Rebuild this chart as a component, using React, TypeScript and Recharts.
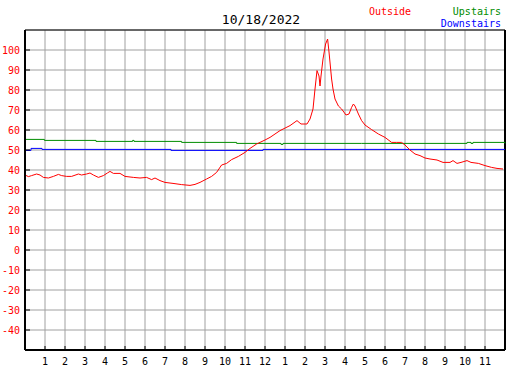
import { LineChart, Line, XAxis, YAxis, CartesianGrid, ReferenceLine } from "recharts";

// hours since midnight and temperatures (°F)
const outsideHours = [
  0, 0.17, 0.33, 0.58, 0.75, 0.92, 1.17, 1.42, 1.67, 1.83, 2.08, 2.33, 2.67, 2.83, 3.08, 3.25, 3.42, 3.67,
  3.92, 4.12, 4.25, 4.42, 4.75, 5.0, 5.42, 5.75, 6.08, 6.33, 6.5, 6.75, 7.0, 7.4, 7.83, 8.25, 8.5, 8.75,
  9.08, 9.33, 9.58, 9.83, 10.08, 10.33, 10.67, 11.0, 11.25, 11.58, 12.0, 12.25, 12.75, 13.25, 13.6, 13.8,
  14.1, 14.25, 14.4, 14.5, 14.6, 14.7, 14.75, 14.8, 14.9, 15.03, 15.13, 15.2, 15.33, 15.4, 15.5, 15.67,
  15.83, 16.05, 16.2, 16.33, 16.42, 16.5, 16.67, 16.83, 17.0, 17.33, 17.67, 18.0, 18.33, 18.58, 18.83,
  19.0, 19.25, 19.5, 19.75, 20.0, 20.25, 20.6, 20.9, 21.25, 21.4, 21.6, 21.8, 22.1, 22.3, 22.67, 23.0,
  23.33, 23.6, 23.9,
];
const outsideTemps = [
  37.5, 36.7, 37.2, 38, 37.5, 36.3, 36, 36.8, 37.8, 37.2, 36.8, 36.8, 38, 37.5, 38, 38.5, 37.5, 36.3,
  37.2, 38.5, 39.3, 38.3, 38.3, 36.8, 36.3, 36, 36.3, 35.2, 36, 34.7, 33.8, 33.3, 32.7, 32.3, 32.8, 33.8,
  35.5, 36.8, 38.8, 42.5, 43.3, 45.2, 46.8, 48.8, 50.8, 53, 55, 56.3, 59.7, 62.2, 64.7, 63,
  63, 65.5, 70.5, 80.5, 89.7, 87, 82, 87, 95.5, 103, 105.5, 99, 85.5, 80.5, 75.5, 72,
  70.5, 67.5, 68, 71.3, 73, 72, 68, 64.7, 62.5, 60.2, 58, 56.3, 53.8, 53.8, 53.8,
  52.5, 50, 48, 47.2, 46, 45.5, 45, 43.8, 43.8, 44.7, 43.3, 43.8, 44.7, 43.8, 43.3, 42.2,
  41.3, 40.8, 40.5,
];

const upstairsHours = [0, 0.97, 3.55, 5.3, 5.38, 5.45, 7.83, 10.58, 12.8, 12.9, 16.83, 22.1, 22.3, 22.4, 24];
const upstairsTemps = [55.3, 54.8, 54.3, 54.3, 54.8, 54.3, 53.8, 53.3, 52.8, 53.3, 53.3, 53.8, 53.3, 53.8, 53.3];

const downstairsHours = [0, 0.3, 0.85, 7.3, 11.9, 24];
const downstairsTemps = [49.8, 50.8, 50.3, 49.8, 50.3, 50.3];

const yTicks = [-40, -30, -20, -10, 0, 10, 20, 30, 40, 50, 60, 70, 80, 90, 100];
const xTicks = Array.from({ length: 23 }, (_, i) => i + 1);

const outsideData = outsideHours.map((h, i) => ({ h, v: outsideTemps[i] }));
const upstairsData = upstairsHours.map((h, i) => ({ h, v: upstairsTemps[i] }));
const downstairsData = downstairsHours.map((h, i) => ({ h, v: downstairsTemps[i] }));

const FONT = "'DejaVu Sans Mono', monospace";
const LEFT = 25;
const BOTTOM = 350;

function YTick({ y, payload }: { y?: number; payload?: { value: number } }) {
  if (y == null || !payload) return null;
  return (
    <g>
      <line x1={LEFT} x2={LEFT + 5} y1={y} y2={y} stroke="#000" />
      <text x={20} y={y + 4} textAnchor="end" fill="#ff0000" fontSize={10} fontFamily={FONT}>
        {payload.value}
      </text>
    </g>
  );
}

function XTick({ x, payload }: { x?: number; payload?: { value: number } }) {
  if (x == null || !payload) return null;
  const h = payload.value;
  const label = h > 12 ? h - 12 : h;
  return (
    <g>
      <line x1={x} x2={x} y1={BOTTOM - 4} y2={BOTTOM} stroke="#000" />
      <text x={x} y={365} textAnchor="middle" fill="#000" fontSize={10} fontFamily={FONT}>
        {label}
      </text>
    </g>
  );
}

export default function App() {
  return (
    <div style={{ position: "relative", width: 527, height: 370, background: "#fff" }}>
      <style>{`body{margin:0}`}</style>
      <LineChart width={527} height={370} margin={{ top: 30, right: 22, bottom: 0, left: 0 }}>
        <CartesianGrid stroke="#a0a0a0" strokeWidth={1} />
        <XAxis
          dataKey="h"
          type="number"
          domain={[0, 24]}
          ticks={xTicks}
          interval={0}
          allowDuplicatedCategory={false}
          axisLine={{ stroke: "#000", strokeWidth: 2 }}
          tickLine={false}
          tick={<XTick />}
          height={20}
        />
        <YAxis
          type="number"
          domain={[-50, 110]}
          ticks={yTicks}
          interval={0}
          axisLine={{ stroke: "#000", strokeWidth: 2 }}
          tickLine={false}
          tick={<YTick />}
          width={25}
        />
        <ReferenceLine y={110} stroke="#000" strokeWidth={1} />
        <ReferenceLine x={24} stroke="#000" strokeWidth={2} />
        <Line
          data={upstairsData}
          dataKey="v"
          type="stepAfter"
          stroke="#008c00"
          strokeWidth={1}
          dot={false}
          isAnimationActive={false}
        />
        <Line
          data={downstairsData}
          dataKey="v"
          type="stepAfter"
          stroke="#0000ff"
          strokeWidth={1}
          dot={false}
          isAnimationActive={false}
        />
        <Line
          data={outsideData}
          dataKey="v"
          type="linear"
          stroke="#ff0000"
          strokeWidth={1}
          dot={false}
          isAnimationActive={false}
        />
      </LineChart>
      <svg
        width={527}
        height={40}
        style={{ position: "absolute", left: 0, top: 0, pointerEvents: "none" }}
      >
        <text x={261} y={24} textAnchor="middle" fontSize={13} fontFamily={FONT} fill="#000">
          10/18/2022
        </text>
        <text x={369} y={15} fontSize={10} fontFamily={FONT} fill="#ff0000">
          Outside
        </text>
        <text x={501} y={15} textAnchor="end" fontSize={10} fontFamily={FONT} fill="#008c00">
          Upstairs
        </text>
        <text x={501} y={27} textAnchor="end" fontSize={10} fontFamily={FONT} fill="#0000ff">
          Downstairs
        </text>
      </svg>
    </div>
  );
}
